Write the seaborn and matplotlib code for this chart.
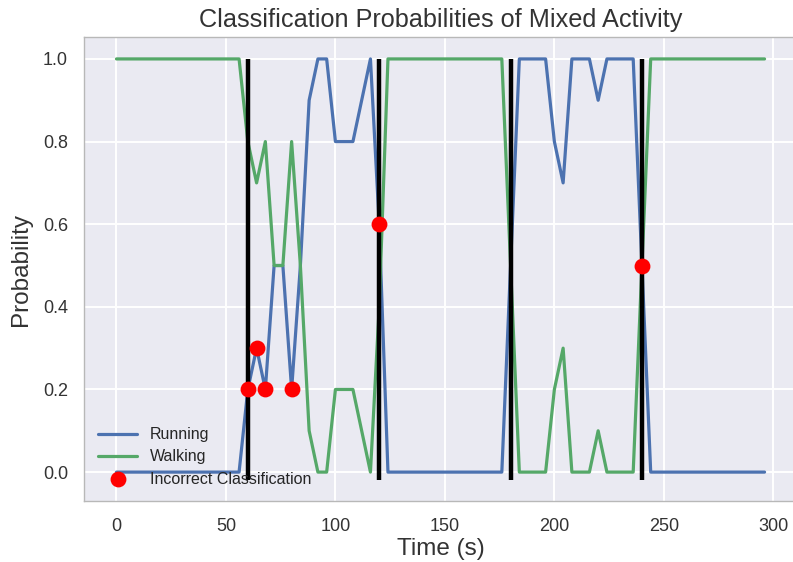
import matplotlib
matplotlib.use("Agg")
import matplotlib.pyplot as plt
import seaborn as sns
import pandas as pd

# sample times (s), one classification every 4 s
times = [0, 4, 8, 12, 16, 20, 24, 28, 32, 36, 40, 44, 48, 52, 56,
         60, 64, 68, 72, 76, 80, 84, 88, 92, 96, 100, 104, 108, 112, 116,
         120, 124, 128, 132, 136, 140, 144, 148, 152, 156, 160, 164, 168, 172, 176,
         180, 184, 188, 192, 196, 200, 204, 208, 212, 216, 220, 224, 228, 232, 236,
         240, 244, 248, 252, 256, 260, 264, 268, 272, 276, 280, 284, 288, 292, 296]

running = [0, 0, 0, 0, 0, 0, 0, 0, 0, 0, 0, 0, 0, 0, 0,
           0.2, 0.3, 0.2, 0.5, 0.5, 0.2, 0.5, 0.9, 1.0, 1.0, 0.8, 0.8, 0.8, 0.9, 1.0,
           0.6, 0, 0, 0, 0, 0, 0, 0, 0, 0, 0, 0, 0, 0, 0,
           0.5, 1.0, 1.0, 1.0, 1.0, 0.8, 0.7, 1.0, 1.0, 1.0, 0.9, 1.0, 1.0, 1.0, 1.0,
           0.5, 0, 0, 0, 0, 0, 0, 0, 0, 0, 0, 0, 0, 0, 0]

walking = [1, 1, 1, 1, 1, 1, 1, 1, 1, 1, 1, 1, 1, 1, 1,
           0.8, 0.7, 0.8, 0.5, 0.5, 0.8, 0.5, 0.1, 0.0, 0.0, 0.2, 0.2, 0.2, 0.1, 0.0,
           0.4, 1, 1, 1, 1, 1, 1, 1, 1, 1, 1, 1, 1, 1, 1,
           0.5, 0.0, 0.0, 0.0, 0.0, 0.2, 0.3, 0.0, 0.0, 0.0, 0.1, 0.0, 0.0, 0.0, 0.0,
           0.5, 1, 1, 1, 1, 1, 1, 1, 1, 1, 1, 1, 1, 1, 1]

# activity switches
switch_times = [60, 120, 180, 240]

# misclassified samples
wrong_times = [60, 64, 68, 80, 120, 240]
wrong_probs = [0.2, 0.3, 0.2, 0.2, 0.6, 0.5]

sns.set_style("darkgrid")
plt.rcParams['font.family'] = ['Liberation Sans', 'DejaVu Sans']

df = pd.DataFrame({'time': times, 'Running': running, 'Walking': walking})
wrong = pd.DataFrame({'time': wrong_times, 'prob': wrong_probs})

fig = plt.figure(figsize=(7.93, 5.62), dpi=100)
ax = fig.add_axes([0.106, 0.1085, 0.899, 0.8256])

deep = sns.color_palette("deep")
sns.lineplot(data=df, x='time', y='Running', color=deep[0], lw=2.3, label='Running', ax=ax)
sns.lineplot(data=df, x='time', y='Walking', color=deep[2], lw=2.3, label='Walking', ax=ax)
for t in switch_times:
    ax.plot([t, t], [-0.02, 1.0], color='black', lw=3.2, solid_capstyle='butt')
sns.scatterplot(data=wrong, x='time', y='prob', color='red', s=130, linewidth=0,
                label='Incorrect Classification', zorder=5, ax=ax)

ax.set_xlim(-14.8, 310.8)
ax.set_ylim(-0.07, 1.053)
ax.set_title('Classification Probabilities of Mixed Activity', fontsize=18.2, color='#333333', pad=7)
ax.set_xlabel('Time (s)', fontsize=17.5, color='#333333', labelpad=2)
ax.set_ylabel('Probability', fontsize=17.5, color='#333333', labelpad=8)
ax.tick_params(axis='x', labelsize=13, colors='#333333', pad=9)
ax.tick_params(axis='y', labelsize=13, colors='#333333', pad=8)
ax.grid(True, color='white', lw=1.4)
for sp in ax.spines.values():
    sp.set_visible(True)
    sp.set_color('#b8b8b8')
    sp.set_linewidth(1)

ax.legend(loc='lower left', fontsize=11.5, frameon=False, handlelength=2.4,
          borderaxespad=0.5, labelspacing=0.45)

fig.savefig('out.png', dpi=100)
